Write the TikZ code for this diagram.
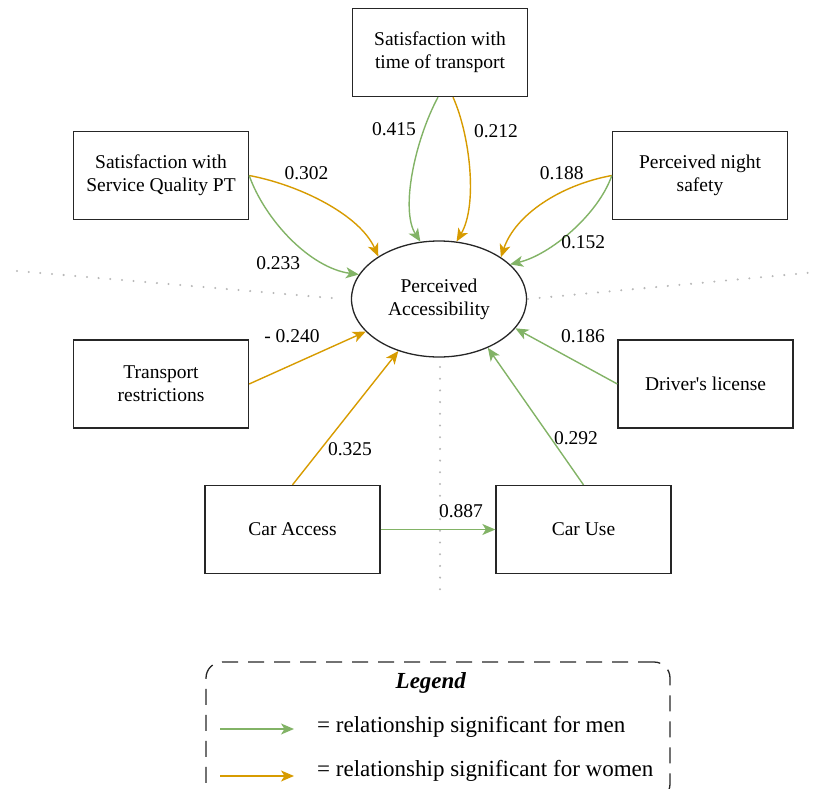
\documentclass[tikz,border=0pt]{standalone}
\usepackage{fontspec}
\setmainfont{Liberation Serif}
\usetikzlibrary{arrows.meta,shapes.geometric}
\definecolor{mengreen}{HTML}{82B366}
\definecolor{womenorange}{HTML}{D79B00}
\definecolor{guidegray}{HTML}{B8B8B8}
\begin{document}
\begin{tikzpicture}[x=1pt,y=-1pt,
  txt/.style={font=\fontsize{19.5}{23}\selectfont},
  box/.style={txt, draw=black!85, line width=1.3pt, minimum width=175pt,
    minimum height=88pt, inner sep=2pt, align=center},
  latent/.style={txt, ellipse, draw=black!85, line width=1.3pt,
    minimum width=175pt, minimum height=116pt, inner sep=0pt, align=center},
  tip/.style={-{Stealth[length=13pt,width=11pt,inset=3.5pt]}},
  men/.style={tip, color=mengreen, line width=1.4pt},
  women/.style={tip, color=womenorange, line width=1.4pt},
  coef/.style={txt, inner sep=0pt},
  guide/.style={color=guidegray, line width=2.3pt, line cap=round,
    dash pattern=on 0pt off 11.7pt},
  legendframe/.style={draw=black!85, line width=1.3pt, rounded corners=16pt,
    dash pattern=on 16pt off 10pt, minimum width=464pt, minimum height=138pt},
  legendtext/.style={font=\fontsize{23}{27}\selectfont, inner sep=0pt}
]
\useasboundingbox (0,0) rectangle (822,789);

% dotted guide lines around the central construct
\coordinate (gl1) at (17,271);
\coordinate (gl2) at (343,299);
\coordinate (gr1) at (528,299);
\coordinate (gr2) at (817,272);
\coordinate (gv1) at (440,367);
\coordinate (gv2) at (440,590);
\draw[guide] (gl1) -- (gl2);
\draw[guide] (gr1) -- (gr2);
\draw[guide] (gv1) -- (gv2);

% central latent variable
\node[latent] (pa) at (439,299) {Perceived\\Accessibility};

% observed variables
\node[box] (st) at (440,52.5)  {Satisfaction with\\time of transport};
\node[box] (sq) at (161,175.5) {Satisfaction with\\Service Quality PT};
\node[box] (ns) at (700,175.5) {Perceived night\\safety};
\node[box] (tr) at (161,384)   {Transport\\restrictions};
\node[box] (dl) at (705.5,384) {Driver\textquotesingle s license};
\node[box] (ca) at (292.5,529.5) {Car Access};
\node[box] (cu) at (583.5,529.5) {Car Use};

% paths from satisfaction with time of transport
\draw[men]   ([xshift=-2pt]st.south) .. controls (415,140) and (400,210) .. (pa.108.4);
\draw[women] ([xshift=13pt]st.south) .. controls (470,135) and (478,205) .. (pa.73);

% paths from satisfaction with service quality
\draw[women] (sq.east) .. controls (300,185) and (360,215) .. (pa.145.5);
\draw[men]   (sq.east) .. controls (265,220) and (310,268) .. (pa.163.7);

% paths from perceived night safety
\draw[women] (ns.west) .. controls (560,185) and (515,215) .. (pa.34.5);
\draw[men]   (ns.west) .. controls (598,215) and (550,255) .. (pa.26.3);

% straight paths
\draw[women] (tr.east) -- (pa.204.7);
\draw[women] (ca.north) -- (pa.232);
\draw[men]   (cu.north) -- (pa.315.5);
\draw[men]   (dl.west) -- (pa.339.4);
\draw[men]   (ca.east) -- (cu.west);

% path coefficients
\node[coef] (c415) at (394,129)   {0.415};
\node[coef] (c212) at (496,131.5) {0.212};
\node[coef] (c302) at (306.5,173.3) {0.302};
\node[coef] (c233) at (278.3,263.3) {0.233};
\node[coef] (c188) at (561.7,173.3) {0.188};
\node[coef] (c152) at (583.3,241.7) {0.152};
\node[coef] (c240) at (292,336)   {- 0.240};
\node[coef] (c186) at (583,336)   {0.186};
\node[coef] (c325) at (350,449)   {0.325};
\node[coef] (c292) at (576,438)   {0.292};
\node[coef] (c887) at (461,511)   {0.887};

% legend
\node[legendframe] (legend) at (438,731) {};
\node[legendtext] (legtitle) at (431,683) {\textbf{\textit{Legend}}};
\coordinate (lm1) at (220,729);
\coordinate (lm2) at (294,729);
\coordinate (lw1) at (220,776);
\coordinate (lw2) at (294,776);
\draw[men]   (lm1) -- (lm2);
\draw[women] (lw1) -- (lw2);
\node[legendtext, anchor=west] (legmen)   at (317,727) {= relationship significant for men};
\node[legendtext, anchor=west] (legwomen) at (317,771) {= relationship significant for women};
\end{tikzpicture}
\end{document}
